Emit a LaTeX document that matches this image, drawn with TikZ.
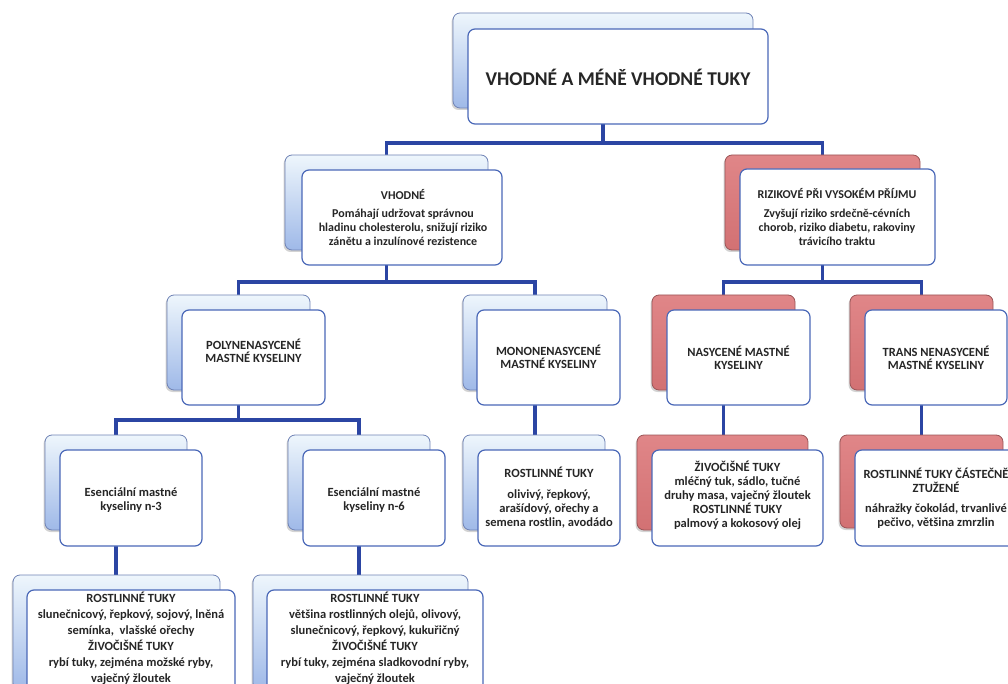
\documentclass[tikz,border=0pt]{standalone}
\usepackage{fontspec}
\setmainfont{Carlito}
\usetikzlibrary{shadows,backgrounds}

\definecolor{conn}{HTML}{2B45A3}
\definecolor{fborder}{HTML}{4A68B8}
\definecolor{bbtop}{HTML}{EEF6FC}
\definecolor{bbbot}{HTML}{9FB9E8}
\definecolor{bborder}{HTML}{6F82B5}
\definecolor{rtop}{HTML}{E08688}
\definecolor{rbot}{HTML}{D27173}
\definecolor{rborder}{HTML}{9A5557}

\tikzset{
  boxbase/.style={rectangle, rounded corners=7pt, inner sep=0pt, outer sep=0pt},
  backblue/.style={boxbase, top color=bbtop, bottom color=bbbot, draw=bborder, line width=0.8pt,
    drop shadow={shadow xshift=-1.5pt, shadow yshift=-2pt, opacity=0.35}},
  backred/.style={boxbase, top color=rtop, bottom color=rbot, draw=rborder, line width=0.8pt,
    drop shadow={shadow xshift=-1.5pt, shadow yshift=-2pt, opacity=0.35}},
  front/.style={boxbase, fill=white, draw=fborder, line width=1.2pt},
  connector/.style={draw=conn, line width=3.5pt, line join=miter},
  ttl/.style={font=\bfseries\fontsize{19.5}{22}\selectfont, text=black!85},
  tb/.style={font=\bfseries\fontsize{12}{14}\selectfont, align=center, text=black!85},
  tc/.style={font=\bfseries\fontsize{12.5}{13.5}\selectfont, align=center, text=black!85},
  td/.style={font=\bfseries\fontsize{12.5}{14}\selectfont, align=center, text=black!85},
  te/.style={font=\bfseries\fontsize{12.5}{16}\selectfont, align=center, text=black!85},
}

\begin{document}
\begin{tikzpicture}[x=1pt, y=-1pt]
\useasboundingbox (0,0) rectangle (1008,684);
\clip (0,0) rectangle (1008,684);

% level 1
\node[backblue, minimum width=300pt, minimum height=95pt] (topB) at (603,60.5) {};
\node[front, minimum width=300pt, minimum height=95pt] (topF) at (618,76.5) {};
\node[ttl] (topT) at (618,77) {VHODNÉ A MÉNĚ VHODNÉ TUKY};

% level 2
\node[backblue, minimum width=203pt, minimum height=95pt] (vhB) at (386.5,202.5) {};
\node[front, minimum width=200pt, minimum height=95pt] (vhF) at (402,217.5) {};
\node[tb] (vhT) at (403,218) {VHODNÉ\\[4pt]Pomáhají udržovat správnou\\hladinu cholesterolu, snižují riziko\\zánětu a inzulínové rezistence};

\node[backred, minimum width=195pt, minimum height=95pt] (rizB) at (822.5,202.5) {};
\node[front, minimum width=195pt, minimum height=96pt] (rizF) at (837.5,217) {};
\node[tb] (rizT) at (837,217) {RIZIKOVÉ PŘI VYSOKÉM PŘÍJMU\\[5pt]Zvyšují riziko srdečně-cévních\\chorob, riziko diabetu, rakoviny\\trávicího traktu};

% level 3
\node[backblue, minimum width=143pt, minimum height=95pt] (polyB) at (238.5,342.5) {};
\node[front, minimum width=143pt, minimum height=95pt] (polyF) at (253.5,357.5) {};
\node[tc] (polyT) at (253.5,351) {POLYNENASYCENÉ\\MASTNÉ KYSELINY};

\node[backblue, minimum width=144pt, minimum height=95pt] (monoB) at (535,342.5) {};
\node[front, minimum width=143pt, minimum height=95pt] (monoF) at (548.5,357.5) {};
\node[tc] (monoT) at (548.5,357) {MONONENASYCENÉ\\MASTNÉ KYSELINY};

\node[backred, minimum width=143pt, minimum height=95pt] (nasB) at (723.5,342.5) {};
\node[front, minimum width=143pt, minimum height=95pt] (nasF) at (738.5,357.5) {};
\node[tc] (nasT) at (738.5,358) {NASYCENÉ MASTNÉ\\KYSELINY};

\node[backred, minimum width=143pt, minimum height=95pt] (transB) at (921.5,342.5) {};
\node[front, minimum width=142pt, minimum height=95pt] (transF) at (936,357.5) {};
\node[tc] (transT) at (936,358) {TRANS NENASYCENÉ\\MASTNÉ KYSELINY};

% level 4
\node[backblue, minimum width=142pt, minimum height=95pt] (n3B) at (116,482.5) {};
\node[front, minimum width=142pt, minimum height=96pt] (n3F) at (131,498) {};
\node[td] (n3T) at (131,500) {Esenciální mastné\\kyseliny n-3};

\node[backblue, minimum width=142pt, minimum height=95pt] (n6B) at (359,482.5) {};
\node[front, minimum width=142pt, minimum height=96pt] (n6F) at (374,498) {};
\node[td] (n6T) at (374,500) {Esenciální mastné\\kyseliny n-6};

\node[backblue, minimum width=142pt, minimum height=95pt] (rostB) at (534,482.5) {};
\node[front, minimum width=142pt, minimum height=96pt] (rostF) at (549,498) {};
\node[td] (rostT) at (549,498) {ROSTLINNÉ TUKY\\[7pt]olivivý, řepkový,\\arašídový, ořechy a\\semena rostlin, avodádo};

\node[backred, minimum width=171pt, minimum height=95pt] (zivB) at (722.5,482.5) {};
\node[front, minimum width=171pt, minimum height=96pt] (zivF) at (737.5,498) {};
\node[td] (zivT) at (737.5,495) {ŽIVOČIŠNÉ TUKY\\mléčný tuk, sádlo, tučné\\druhy masa, vaječný žloutek\\ROSTLINNÉ TUKY\\palmový a kokosový olej};

\node[backred, minimum width=163pt, minimum height=93pt] (castB) at (921.5,481.5) {};
\node[front, minimum width=161pt, minimum height=96pt] (castF) at (935.5,498) {};
\node[td] (castT) at (936,498) {ROSTLINNÉ TUKY ČÁSTEČNĚ\\ZTUŽENÉ\\[6pt]náhražky čokolád, trvanlivé\\pečivo, většina zmrzlin};

% level 5
\node[backblue, minimum width=207pt, minimum height=115pt] (l5aB) at (116.5,632.5) {};
\node[front, minimum width=208pt, minimum height=115pt] (l5aF) at (131,647.5) {};
\node[te] (l5aT) at (131,638) {ROSTLINNÉ TUKY\\slunečnicový, řepkový, sojový, lněná\\semínka,~~vlašské ořechy\\ŽIVOČIŠNÉ TUKY\\rybí tuky, zejména možské ryby,\\vaječný žloutek};

\node[backblue, minimum width=215pt, minimum height=115pt] (l5bB) at (360.5,632.5) {};
\node[front, minimum width=216pt, minimum height=115pt] (l5bF) at (375,647.5) {};
\node[te] (l5bT) at (375,638) {ROSTLINNÉ TUKY\\většina rostlinných olejů, olivový,\\slunečnicový, řepkový, kukuřičný\\ŽIVOČIŠNÉ TUKY\\rybí tuky, zejména sladkovodní ryby,\\vaječný žloutek};

% connectors
\coordinate (bus1) at (0,143);
\coordinate (bus2) at (0,282);
\coordinate (bus3) at (0,420);
\begin{pgfonlayer}{background}
\draw[connector] (topB |- topF.south) -- (topB |- bus1) -| (vhB.north);
\draw[connector] (topB |- bus1) -| (rizB.north);
\draw[connector] (vhB |- vhF.south) -- (vhB |- bus2) -| (polyB.north);
\draw[connector] (vhB |- bus2) -| (monoB.north);
\draw[connector] (rizB |- rizF.south) -- (rizB |- bus2) -| (nasB.north);
\draw[connector] (rizB |- bus2) -| (transB.north);
\draw[connector] (polyB |- polyF.south) -- (polyB |- bus3) -| (n3B.north);
\draw[connector] (polyB |- bus3) -| (n6B.north);
\draw[connector] (monoB |- monoF.south) -- (monoB |- rostB.north);
\draw[connector] (nasB |- nasF.south) -- (nasB |- zivB.north);
\draw[connector] (transB |- transF.south) -- (transB |- castB.north);
\draw[connector] (n3B |- n3F.south) -- (n3B |- l5aB.north);
\draw[connector] (n6B |- n6F.south) -- (n6B |- l5bB.north);
\end{pgfonlayer}
\end{tikzpicture}
\end{document}
